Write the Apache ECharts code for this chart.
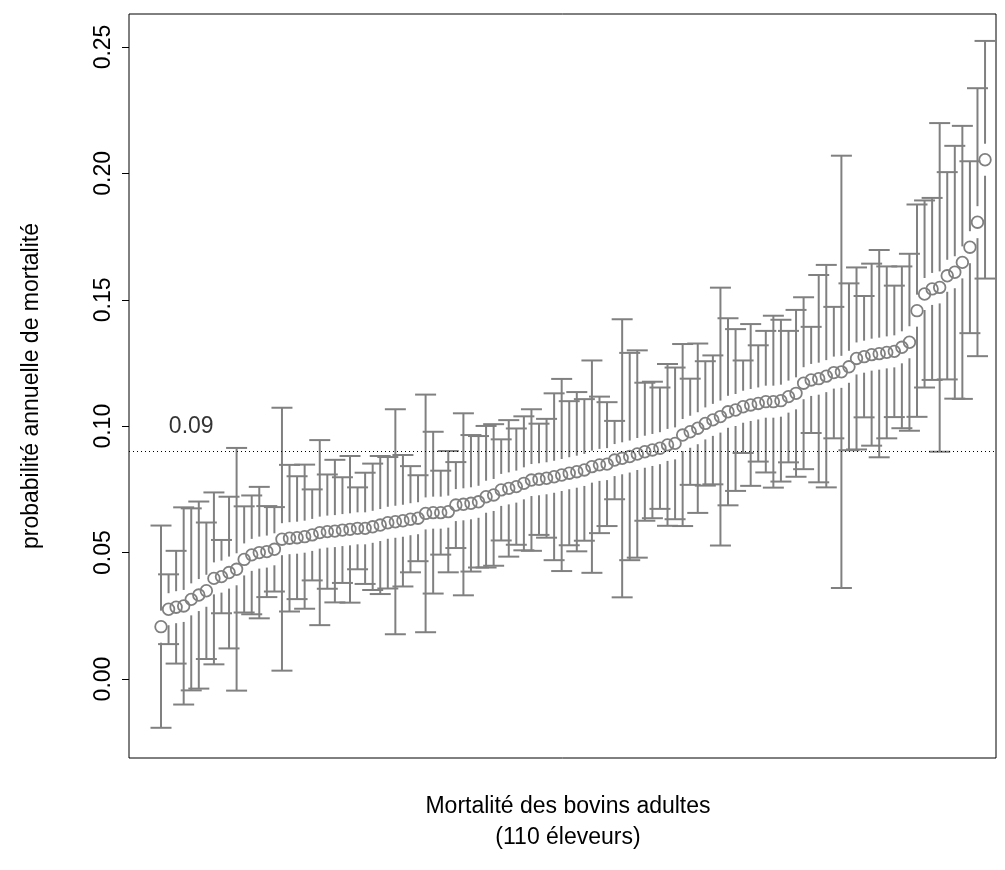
<!DOCTYPE html>
<html>
<head>
<meta charset="utf-8">
<script src="https://cdn.jsdelivr.net/npm/echarts@6/dist/echarts.min.js"></script>
<style>
html,body{margin:0;padding:0;background:#ffffff;}
#chart{width:1005px;height:870px;}
</style>
</head>
<body>
<div id="chart"></div>
<script>
// rank of each herd (x position)
const herdRank = Array.from({length: 110}, (_, i) => i + 1);

// estimated annual mortality probability per herd (sorted)
const estimates = [
  0.0207,0.0276,0.0284,0.0289,0.0315,0.0332,0.0349,0.0398,0.0405,0.0421,
  0.0434,0.0473,0.0491,0.0500,0.0504,0.0513,0.0553,0.0557,0.0559,0.0563,
  0.0570,0.0579,0.0583,0.0585,0.0589,0.0592,0.0596,0.0596,0.0602,0.0609,
  0.0618,0.0622,0.0626,0.0632,0.0636,0.0655,0.0658,0.0658,0.0662,0.0688,
  0.0691,0.0695,0.0701,0.0721,0.0728,0.0748,0.0754,0.0761,0.0774,0.0787,
  0.0790,0.0794,0.0800,0.0807,0.0814,0.0820,0.0827,0.0840,0.0847,0.0850,
  0.0866,0.0873,0.0880,0.0890,0.0899,0.0906,0.0913,0.0926,0.0932,0.0965,
  0.0978,0.0992,0.1011,0.1025,0.1038,0.1057,0.1064,0.1077,0.1084,0.1090,
  0.1097,0.1097,0.1101,0.1117,0.1130,0.1170,0.1183,0.1188,0.1198,0.1212,
  0.1215,0.1235,0.1268,0.1275,0.1283,0.1287,0.1292,0.1296,0.1312,0.1332,
  0.1457,0.1523,0.1543,0.1549,0.1595,0.1609,0.1648,0.1708,0.1807,0.2054
];

// half-width of the confidence interval per herd
const halfWidths = [
  0.040,0.0138,0.0223,0.039,0.036,0.037,0.027,0.034,0.0145,0.030,
  0.048,0.021,0.0235,0.026,0.018,0.0167,0.052,0.029,0.0243,0.0285,
  0.018,0.0366,0.0226,0.0282,0.0209,0.029,0.0162,0.022,0.025,0.0273,
  0.026,0.0445,0.026,0.021,0.017,0.047,0.032,0.0166,0.024,0.017,
  0.036,0.027,0.026,0.028,0.028,0.020,0.027,0.023,0.0265,0.028,
  0.022,0.0235,0.033,0.038,0.0285,0.0315,0.028,0.042,0.027,0.0245,
  0.0155,0.055,0.041,0.041,0.0273,0.027,0.024,0.032,0.030,0.036,
  0.021,0.0335,0.0246,0.0255,0.051,0.037,0.032,0.0183,0.032,0.023,
  0.028,0.034,0.032,0.026,0.033,0.034,0.021,0.041,0.044,0.026,
  0.0855,0.033,0.036,0.024,0.036,0.041,0.034,0.026,0.032,0.035,
  0.042,0.037,0.036,0.065,0.041,0.050,0.054,0.034,0.053,0.047
];

const yTicks = [0, 0.05, 0.10, 0.15, 0.20, 0.25];
const meanRate = 0.0879;
const meanLabel = '0.09';
const meanLabelPos = [5, 0.1];
const xTitle1 = 'Mortalité des bovins adultes';
const xTitle2 = '(110 éleveurs)';
const yTitle = 'probabilité annuelle de mortalité';

const GRAY = '#808080';
const FONT = 'Liberation Sans, Arial, Helvetica, sans-serif';

const ciData = herdRank.map((r, i) => [r, estimates[i], estimates[i] - halfWidths[i], estimates[i] + halfWidths[i]]);

const chart = echarts.init(document.getElementById('chart'), null, {renderer: 'canvas'});

function renderItem(params, api) {
  const x = api.value(0), p = api.value(1), lo = api.value(2), hi = api.value(3);
  const c = api.coord([x, p]);
  const top = api.coord([x, hi])[1];
  const bot = api.coord([x, lo])[1];
  const gap = 16, cap = 10.5;
  const ls = {stroke: GRAY, lineWidth: 2, fill: null};
  const ch = [];
  if (c[1] - gap > top) ch.push({type: 'line', shape: {x1: c[0], y1: top, x2: c[0], y2: c[1] - gap}, style: ls});
  if (c[1] + gap < bot) ch.push({type: 'line', shape: {x1: c[0], y1: c[1] + gap, x2: c[0], y2: bot}, style: ls});
  ch.push({type: 'line', shape: {x1: c[0] - cap, y1: top, x2: c[0] + cap, y2: top}, style: ls});
  ch.push({type: 'line', shape: {x1: c[0] - cap, y1: bot, x2: c[0] + cap, y2: bot}, style: ls});
  ch.push({type: 'circle', shape: {cx: c[0], cy: c[1], r: 5.8}, style: {fill: 'none', stroke: GRAY, lineWidth: 1.8}});
  return {type: 'group', children: ch};
}

chart.setOption({
  animation: false,
  backgroundColor: '#ffffff',
  grid: {
    left: 129, top: 14, width: 867, height: 744,
    show: true, borderColor: '#000000', borderWidth: 1, backgroundColor: 'transparent',
    containLabel: false
  },
  xAxis: {
    type: 'value', min: -3.233, max: 111.45,
    axisLine: {show: false}, axisTick: {show: false}, axisLabel: {show: false}, splitLine: {show: false}
  },
  yAxis: {
    type: 'value', min: -0.03125, max: 0.26305,
    axisLine: {show: false, onZero: false},
    splitLine: {show: false},
    axisTick: {show: true, customValues: yTicks, length: 7, lineStyle: {color: '#000000', width: 1}},
    axisLabel: {
      show: true, customValues: yTicks, rotate: 90, margin: 14,
      fontSize: 23, fontFamily: FONT, color: '#000000',
      formatter: v => Number(v).toFixed(2)
    }
  },
  series: [
    {
      type: 'custom',
      renderItem: renderItem,
      data: ciData,
      encode: {x: 0, y: 1},
      clip: false,
      z: 3,
      markLine: {
        silent: true, symbol: ['none', 'none'],
        label: {show: false},
        lineStyle: {color: '#000000', width: 1, type: [1, 3]},
        data: [{yAxis: meanRate}]
      }
    },
    {
      type: 'scatter',
      data: [meanLabelPos],
      symbolSize: 1,
      itemStyle: {color: 'transparent'},
      label: {show: true, position: 'inside', formatter: meanLabel, fontSize: 23, fontFamily: FONT, color: '#000000'},
      silent: true
    }
  ],
  graphic: [
    {type: 'text', x: 32, y: 386, rotation: Math.PI / 2,
     style: {text: yTitle, font: '23px ' + FONT, fill: '#000000', textAlign: 'center', textVerticalAlign: 'middle'}},
    {type: 'text', x: 568, y: 807,
     style: {text: xTitle1, font: '23px ' + FONT, fill: '#000000', textAlign: 'center', textVerticalAlign: 'middle'}},
    {type: 'text', x: 568, y: 838,
     style: {text: xTitle2, font: '23px ' + FONT, fill: '#000000', textAlign: 'center', textVerticalAlign: 'middle'}}
  ]
});
</script>
</body>
</html>
